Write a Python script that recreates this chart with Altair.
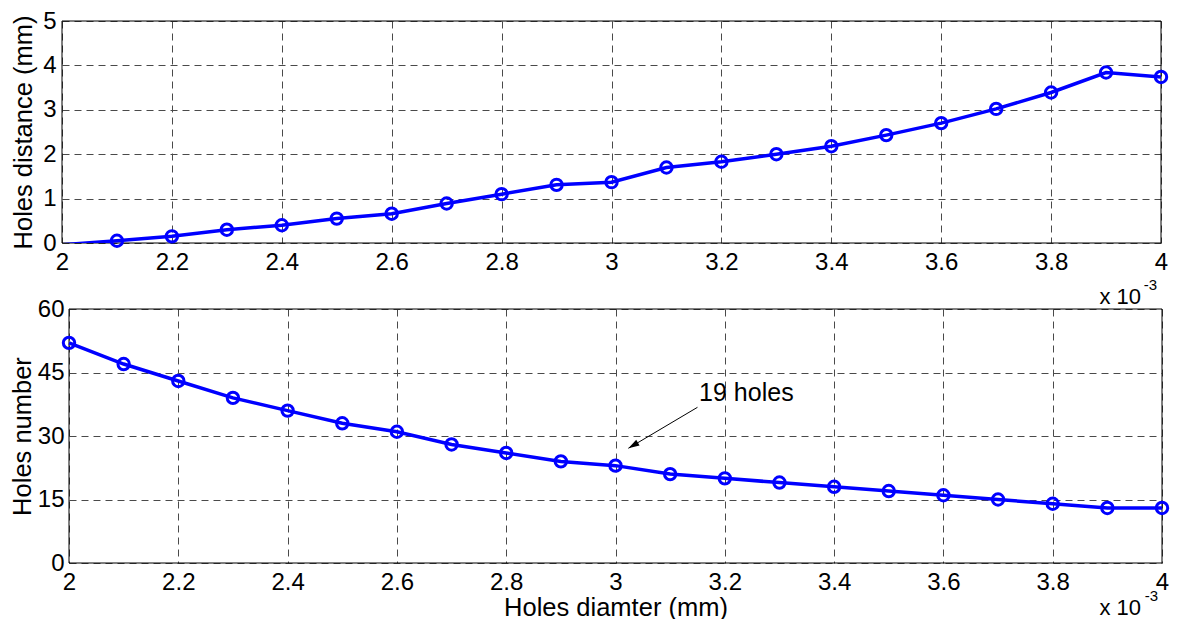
import altair as alt
import pandas as pd

# ---------------- data ----------------
diameter = [2.0, 2.1, 2.2, 2.3, 2.4, 2.5, 2.6, 2.7, 2.8, 2.9, 3.0,
            3.1, 3.2, 3.3, 3.4, 3.5, 3.6, 3.7, 3.8, 3.9, 4.0]
distance = [-0.04, 0.05, 0.15, 0.30, 0.40, 0.55, 0.66, 0.89, 1.10, 1.31, 1.37,
            1.70, 1.83, 2.00, 2.18, 2.43, 2.70, 3.02, 3.39, 3.84, 3.74]
holes = [52, 47, 43, 39, 36, 33, 31, 28, 26, 24, 23,
         21, 20, 19, 18, 17, 16, 15, 14, 13, 13]

x_ticks = [2.0, 2.2, 2.4, 2.6, 2.8, 3.0, 3.2, 3.4, 3.6, 3.8, 4.0]
dist_ticks = [0, 1, 2, 3, 4, 5]
holes_ticks = [0, 15, 30, 45, 60]
x_domain = [2.0, 4.0]
dist_domain = [0, 5]
holes_domain = [0, 60]

x_title = "Holes diamter (mm)"
dist_title = "Holes distance (mm)"
holes_title = "Holes number"

ann_text = ["19 holes"]
ann_x = [3.153]
ann_y = [38.2]
arrow_tail_x = [3.150]
arrow_tail_y = [36.78]
arrow_head_x = [3.0236]
arrow_head_y = [27.1]

sci_main = "x 10"
sci_exp = "-3"

# ---------------- style ----------------
FONT = "Liberation Sans"
BLUE = "#0000ff"
GRID = dict(grid=True, gridColor="#4a4a4a", gridDash=[7, 5], gridWidth=1, gridOpacity=1)
AX = dict(labelFont=FONT, labelFontSize=24, labelColor="black", titleFont=FONT,
          titleFontSize=25.5, titleFontWeight="normal", titleColor="black",
          ticks=False, domain=False, labelFlush=False, labelOverlap=False)

df_top = pd.DataFrame({"d": diameter, "v": distance})
df_bot = pd.DataFrame({"d": diameter, "v": holes})

# ---------------- top panel ----------------
xs_top = alt.Scale(domain=x_domain, nice=False, zero=False)
ys_top = alt.Scale(domain=dist_domain, nice=False, zero=False)

frame_top_df = pd.DataFrame({"x1": [x_domain[0]], "x2": [x_domain[1]],
                             "y1": [dist_domain[0]], "y2": [dist_domain[1]]})

top_x_axis = alt.Axis(values=x_ticks, format=".3~g", labelPadding=7, **GRID, **AX)
top_y_axis = alt.Axis(values=dist_ticks, labelPadding=6, titlePadding=6, **GRID, **AX)

def tx(field):
    return alt.X(field, scale=xs_top, title=None, axis=top_x_axis)

def ty(field):
    return alt.Y(field, scale=ys_top, title=dist_title, axis=top_y_axis)

top_line = alt.Chart(df_top).mark_line(color=BLUE, strokeWidth=3.5, clip=True).encode(
    x=tx("d:Q"), y=ty("v:Q"))
top_pts = alt.Chart(df_top).transform_filter("datum.v >= 0").mark_point(
    shape="circle", filled=False, size=130, strokeWidth=3, color=BLUE, opacity=1
).encode(x=tx("d:Q"), y=ty("v:Q"))
top_frame = alt.Chart(frame_top_df).mark_rect(filled=False, stroke="black", strokeWidth=1).encode(
    x=tx("x1:Q"), x2="x2:Q", y=ty("y1:Q"), y2="y2:Q")

top = alt.layer(top_frame, top_line, top_pts).properties(width=1099, height=222)

# ---------------- bottom panel ----------------
xs_bot = alt.Scale(domain=x_domain, range=[7, 1100], nice=False, zero=False)
ys_bot = alt.Scale(domain=holes_domain, nice=False, zero=False)

frame_bot_df = pd.DataFrame({"x1": [x_domain[0]], "x2": [x_domain[1]],
                             "y1": [holes_domain[0]], "y2": [holes_domain[1]]})

bot_x_axis = alt.Axis(values=x_ticks, format=".3~g", labelPadding=7, titlePadding=1, **GRID, **AX)
bot_y_axis = alt.Axis(values=holes_ticks, labelPadding=5, titlePadding=1.8, offset=-7, **GRID, **AX)

def bx(field):
    return alt.X(field, scale=xs_bot, title=x_title, axis=bot_x_axis)

def by(field):
    return alt.Y(field, scale=ys_bot, title=holes_title, axis=bot_y_axis)

bot_line = alt.Chart(df_bot).mark_line(color=BLUE, strokeWidth=3.5).encode(x=bx("d:Q"), y=by("v:Q"))
bot_pts = alt.Chart(df_bot).mark_point(
    shape="circle", filled=False, size=130, strokeWidth=3, color=BLUE, opacity=1
).encode(x=bx("d:Q"), y=by("v:Q"))
bot_frame = alt.Chart(frame_bot_df).mark_rect(filled=False, stroke="black", strokeWidth=1).encode(
    x=bx("x1:Q"), x2="x2:Q", y=by("y1:Q"), y2="y2:Q")

ann_df = pd.DataFrame({"t": ann_text, "x": ann_x, "y": ann_y})
arrow_df = pd.DataFrame({"x": arrow_tail_x, "y": arrow_tail_y, "x2": arrow_head_x, "y2": arrow_head_y})

ann_txt = alt.Chart(ann_df).mark_text(align="left", baseline="alphabetic", font=FONT,
                                      fontSize=25, color="black").encode(
    x=bx("x:Q"), y=by("y:Q"), text="t:N")
arrow_line = alt.Chart(arrow_df).mark_rule(color="black", strokeWidth=1).encode(
    x=bx("x:Q"), y=by("y:Q"), x2="x2:Q", y2="y2:Q")
arrow_head = alt.Chart(arrow_df).mark_point(
    shape="M0,0L-0.3,1L0.3,1Z", filled=True, color="black", size=484, angle=239.6, opacity=1
).encode(x=bx("x2:Q"), y=by("y2:Q"))

sci_df = pd.DataFrame({"x": [x_domain[1], x_domain[1]], "y": [holes_domain[1], holes_domain[0]],
                       "main": [sci_main, sci_main], "exp": [sci_exp, sci_exp]})
sci_top_main = alt.Chart(sci_df.iloc[[0]]).mark_text(
    align="right", baseline="alphabetic", font=FONT, fontSize=22, color="black", dx=-21, dy=-5
).encode(x=bx("x:Q"), y=by("y:Q"), text="main:N")
sci_top_exp = alt.Chart(sci_df.iloc[[0]]).mark_text(
    align="right", baseline="alphabetic", font=FONT, fontSize=15, color="black", dx=-5, dy=-19
).encode(x=bx("x:Q"), y=by("y:Q"), text="exp:N")
sci_bot_main = alt.Chart(sci_df.iloc[[1]]).mark_text(
    align="right", baseline="alphabetic", font=FONT, fontSize=22, color="black", dx=-21, dy=52
).encode(x=bx("x:Q"), y=by("y:Q"), text="main:N")
sci_bot_exp = alt.Chart(sci_df.iloc[[1]]).mark_text(
    align="right", baseline="alphabetic", font=FONT, fontSize=15, color="black", dx=-4, dy=38
).encode(x=bx("x:Q"), y=by("y:Q"), text="exp:N")

bottom = alt.layer(bot_frame, bot_line, bot_pts, arrow_line, arrow_head, ann_txt,
                   sci_top_main, sci_top_exp, sci_bot_main, sci_bot_exp).properties(width=1100, height=254)

chart = alt.vconcat(top, bottom, spacing=4).properties(
    padding={"left": 2, "top": 1, "right": 0, "bottom": -2},
    background="white",
).configure_view(stroke=None)

chart.save("out.html", embed_options={"renderer": "svg", "actions": False})
